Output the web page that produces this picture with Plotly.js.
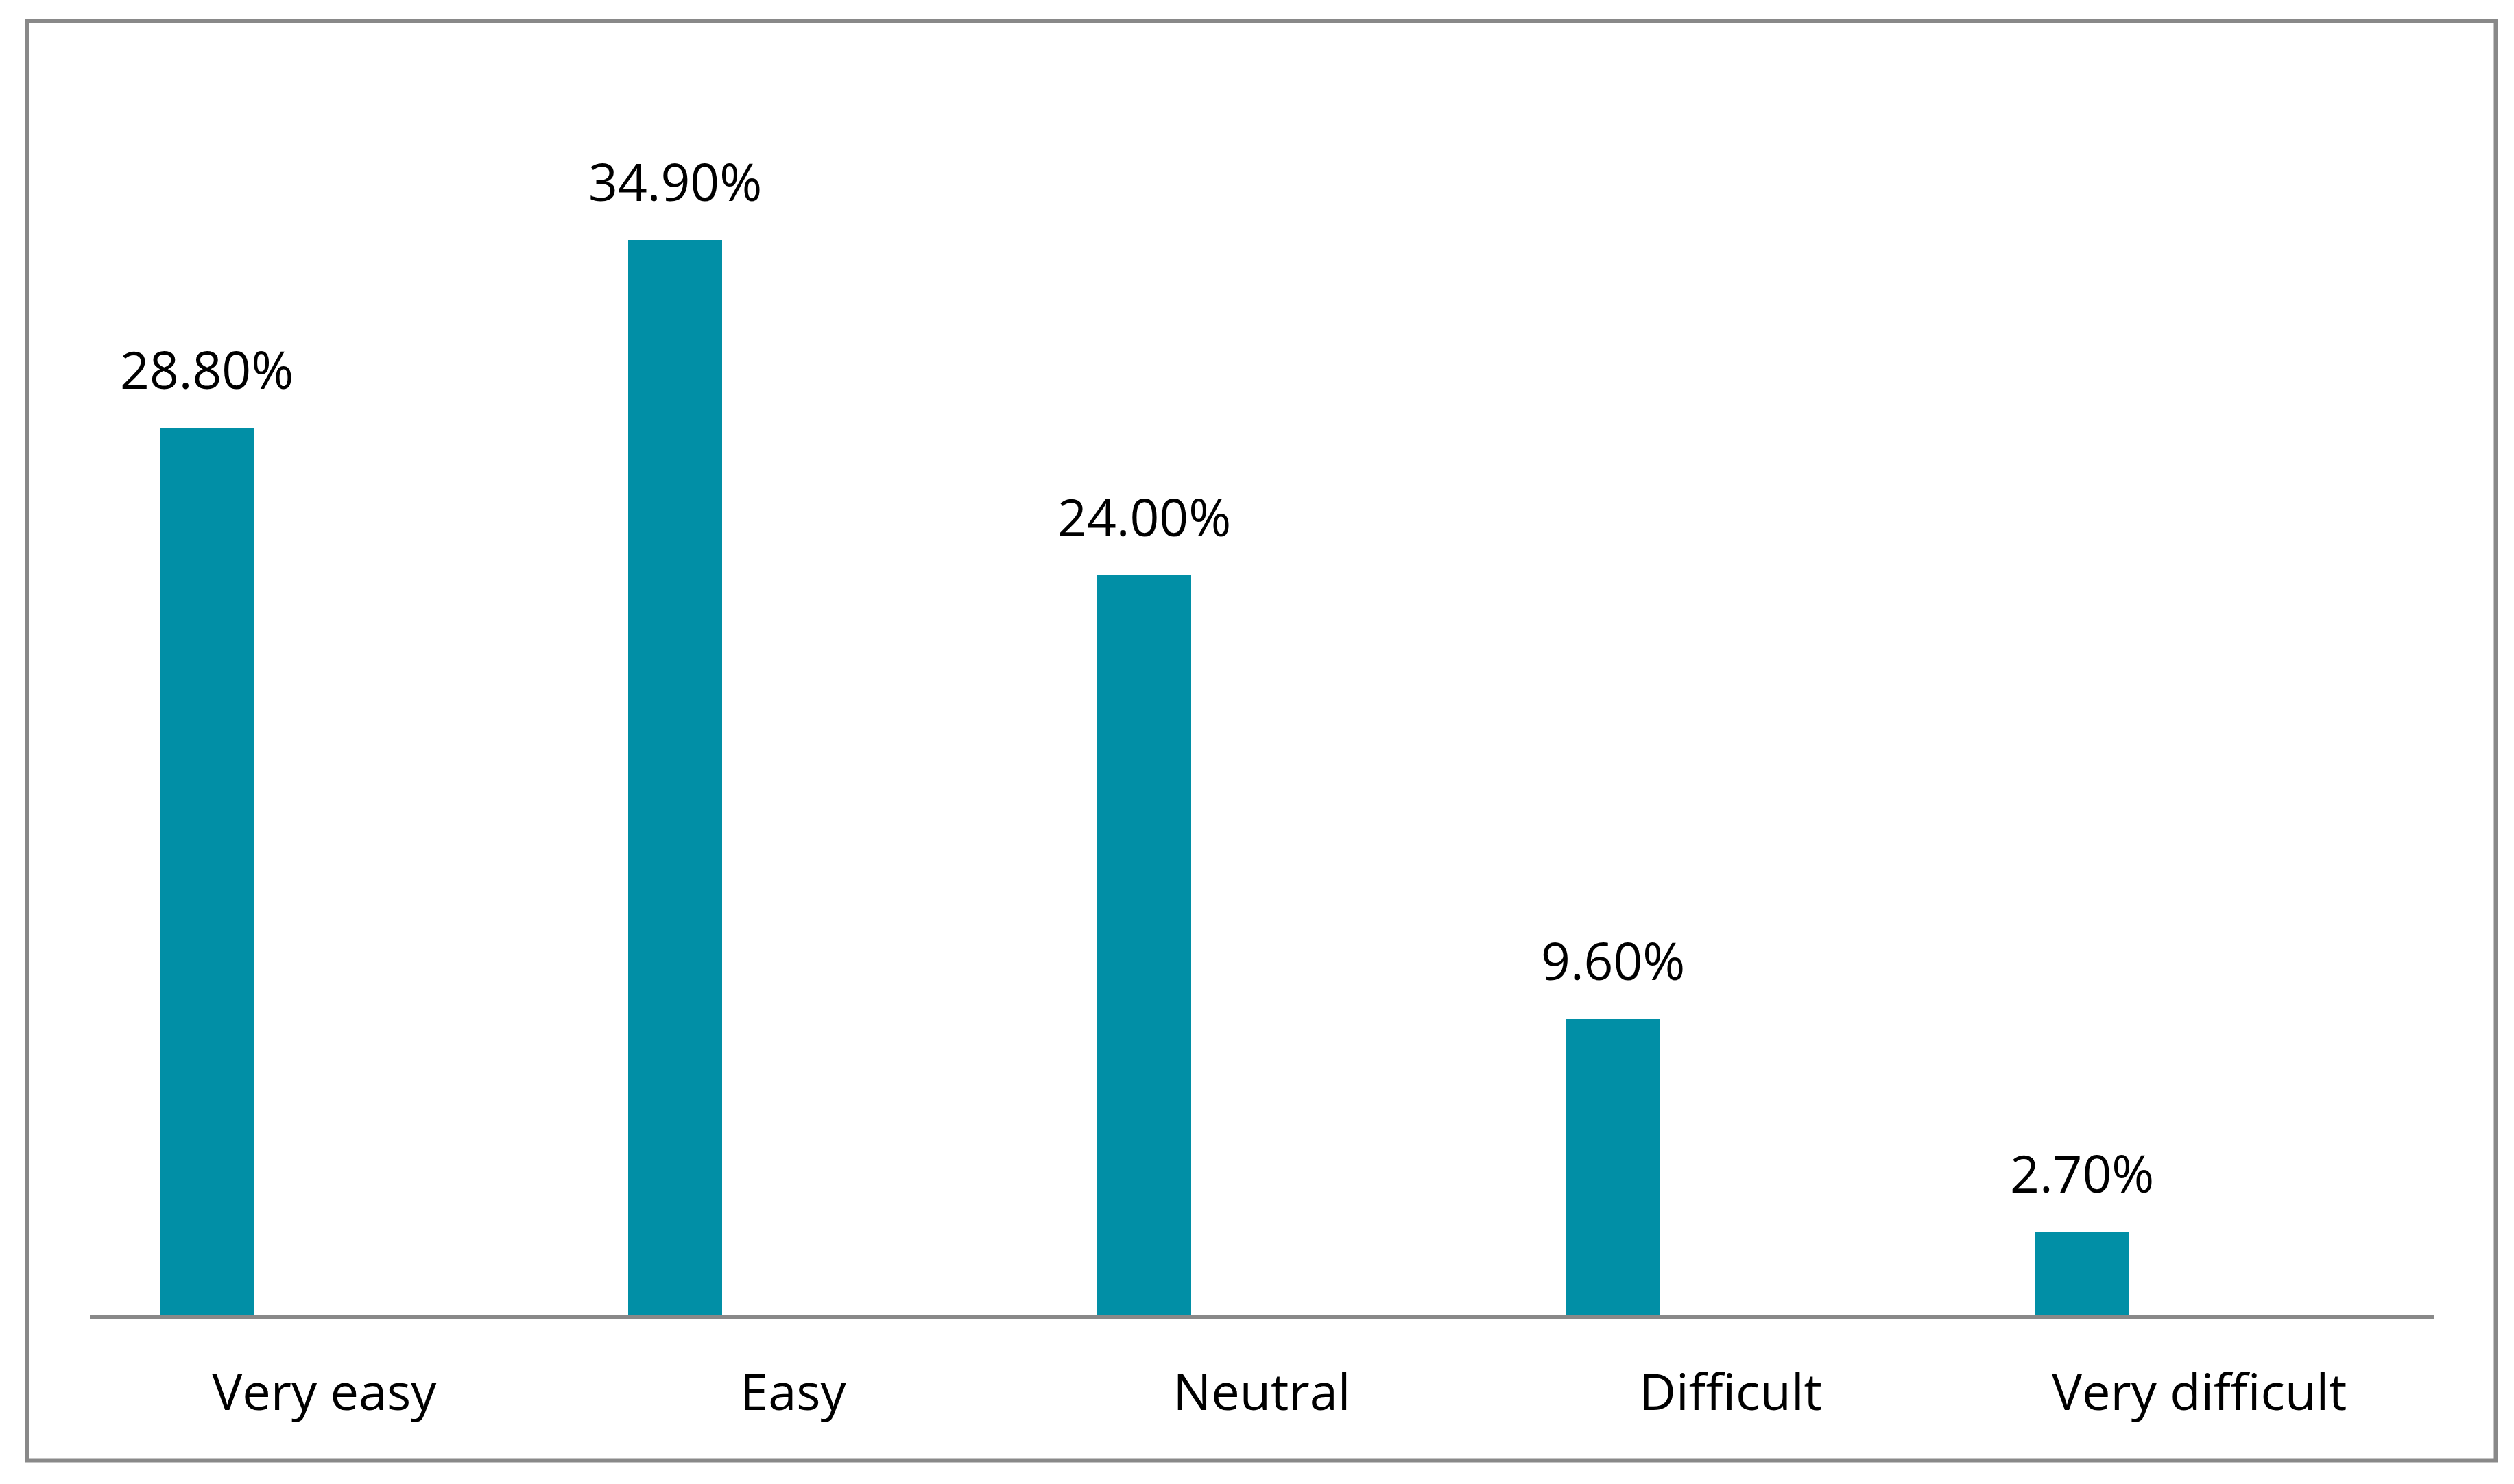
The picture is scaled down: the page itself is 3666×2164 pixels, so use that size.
<!DOCTYPE html>
<html>
<head>
<meta charset="utf-8">
<script src="https://cdn.plot.ly/plotly-3.0.1.min.js"></script>
<style>
  html, body { margin: 0; padding: 0; background: #ffffff; }
  #chart { width: 3666px; height: 2164px; }
</style>
</head>
<body>
<div id="chart"></div>
<script>
// ---- data ----
const categories = ["Very easy", "Easy", "Neutral", "Difficult", "Very difficult"];
const values = [28.8, 34.9, 24.0, 9.6, 2.7];
const valueLabels = ["28.80%", "34.90%", "24.00%", "9.60%", "2.70%"];

// ---- style ----
const barColor = "#018FA6";
const greyLine = "#898989";
const fontFamily = "'Open Sans', 'Noto Sans', sans-serif";
const barOffset = -0.351;
const barWidth = 0.2;

const trace = {
  type: "bar",
  x: categories,
  y: values,
  offset: barOffset,
  width: barWidth,
  marker: { color: barColor, line: { width: 0 } },
  hoverinfo: "skip",
  showlegend: false
};

const annotations = categories.map((c, i) => ({
  xref: "x",
  yref: "y",
  x: i + barOffset + barWidth / 2,
  y: values[i],
  text: valueLabels[i],
  showarrow: false,
  xanchor: "center",
  yanchor: "bottom",
  yshift: 33,
  font: { family: fontFamily, size: 75, color: "#000000" }
}));

const layout = {
  width: 3666,
  height: 2164,
  paper_bgcolor: "#ffffff",
  plot_bgcolor: "#ffffff",
  margin: { l: 131, r: 117, t: 121, b: 247, pad: 0 },
  bargap: 0,
  xaxis: {
    type: "category",
    range: [-0.5, categories.length - 0.5],
    showgrid: false,
    zeroline: false,
    showline: true,
    linecolor: greyLine,
    linewidth: 7,
    ticks: "",
    ticklabelstandoff: 43,
    tickfont: { family: fontFamily, size: 74, color: "#000000" },
    fixedrange: true
  },
  yaxis: {
    range: [0, 40],
    visible: false,
    showgrid: false,
    zeroline: false,
    fixedrange: true
  },
  annotations: annotations,
  shapes: [{
    type: "rect",
    xref: "paper",
    yref: "paper",
    x0: -0.02677, x1: 1.02648,
    y0: -0.1183, y1: 1.0504,
    line: { color: greyLine, width: 6 },
    fillcolor: "rgba(0,0,0,0)",
    layer: "above"
  }]
};

Plotly.newPlot("chart", [trace], layout, { staticPlot: true, displayModeBar: false });
</script>
</body>
</html>
